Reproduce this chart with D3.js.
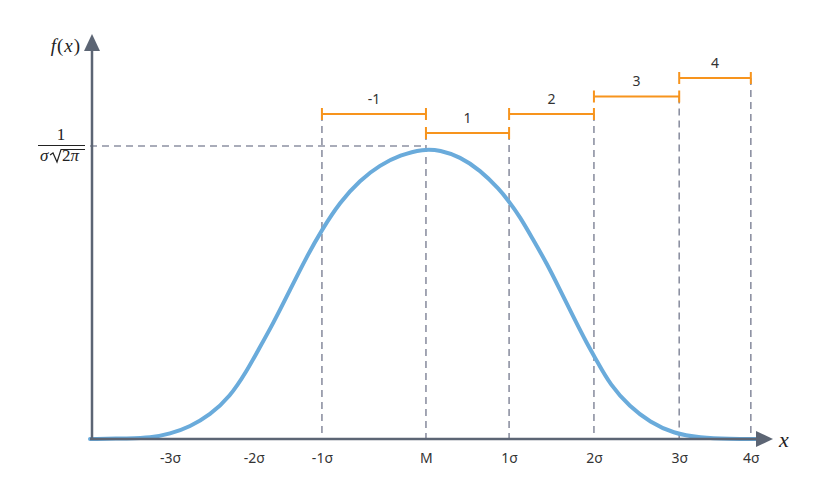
<!DOCTYPE html>
<html>
<head>
<meta charset="utf-8">
<script src="https://cdn.jsdelivr.net/npm/d3@7"></script>
<style>
  body { margin: 0; background: #fff; }
  svg { display: block; }
</style>
</head>
<body>
<div id="chart"></div>
<script>
// tick positions on the x axis, in sigma units
const tickValues = [-3, -2.02, -1.22, 0, 0.975, 1.97, 2.97, 3.81];
const tickLabels = ['-3σ', '-2σ', '-1σ', 'M', '1σ', '2σ', '3σ', '4σ'];

// bell curve (y relative to the 1/(σ√2π) level)
const curveX = [-3.94, -3.471, -3.236, -3.002, -2.767, -2.533, -2.298, -2.102, -1.985, -1.79,
  -1.594, -1.399, -1.223, -1.008, -0.773, -0.539, -0.304, -0.031, 0.165, 0.399, 0.634, 0.868,
  0.951, 1.103, 1.259, 1.416, 1.572, 1.728, 1.885, 2.006, 2.158, 2.393, 2.627, 2.901, 3.214,
  3.566, 3.883];
const curveY = [0, 0.002, 0.004, 0.017, 0.042, 0.082, 0.144, 0.232, 0.294, 0.395,
  0.509, 0.622, 0.713, 0.809, 0.884, 0.935, 0.969, 0.99, 0.986, 0.963, 0.918, 0.85,
  0.819, 0.759, 0.679, 0.6, 0.509, 0.417, 0.327, 0.266, 0.186, 0.109, 0.058, 0.019, 0.004,
  0, 0];

// orange interval brackets above the curve
const bracketLabels = ['-1', '1', '2', '3', '4'];
const bracketFrom = [-1.22, 0, 0.975, 1.97, 2.97];
const bracketTo = [0, 0.975, 1.97, 2.97, 3.81];
const bracketLevel = [1.109, 1.044, 1.109, 1.169, 1.232];

const width = 822, height = 493;
const axisColor = '#5c6574';
const dashColor = '#8d91a2';
const orange = '#f7941d';

const svg = d3.select('#chart').append('svg')
  .attr('width', width)
  .attr('height', height);

const x = d3.scaleLinear().domain([-3.94, 4.07]).range([90, 773]);
const y = d3.scaleLinear().domain([0, 1]).range([439, 146]);

// horizontal dashed guide at the peak level
svg.append('line')
  .attr('x1', x(-3.94)).attr('x2', x(0))
  .attr('y1', y(1)).attr('y2', y(1))
  .attr('stroke', dashColor)
  .attr('stroke-width', 1.6)
  .attr('stroke-dasharray', '7,5');

// vertical dashed guides, starting at the lowest bracket touching each end
const guides = [];
bracketFrom.forEach((f, i) => {
  [f, bracketTo[i]].forEach((v) => {
    const g = guides.find((d) => d.v === v);
    if (g) g.top = Math.min(g.top, bracketLevel[i]);
    else guides.push({ v: v, top: bracketLevel[i] });
  });
});
svg.selectAll('.guide')
  .data(guides)
  .join('line')
  .attr('class', 'guide')
  .attr('x1', (d) => x(d.v)).attr('x2', (d) => x(d.v))
  .attr('y1', (d) => y(d.top)).attr('y2', y(0))
  .attr('stroke', dashColor)
  .attr('stroke-width', 1.6)
  .attr('stroke-dasharray', '7,5');

// brackets
const brackets = svg.selectAll('.bracket')
  .data(bracketLabels.map((l, i) => ({ label: l, from: bracketFrom[i], to: bracketTo[i], level: bracketLevel[i] })))
  .join('g')
  .attr('class', 'bracket');
brackets.append('path')
  .attr('d', (d) => {
    const x0 = x(d.from), x1 = x(d.to), yy = y(d.level);
    return `M${x0},${yy - 6}V${yy + 6}M${x0},${yy}H${x1}M${x1},${yy - 6}V${yy + 6}`;
  })
  .attr('fill', 'none')
  .attr('stroke', orange)
  .attr('stroke-width', 2);
brackets.append('text')
  .attr('x', (d) => (x(d.from) + x(d.to)) / 2)
  .attr('y', (d) => y(d.level) - 15)
  .attr('dy', '0.35em')
  .attr('text-anchor', 'middle')
  .attr('font-family', '"Noto Sans", sans-serif')
  .attr('font-size', 14)
  .attr('fill', '#333')
  .text((d) => d.label);

// the curve
const line = d3.line()
  .x((d) => x(d[0]))
  .y((d) => y(d[1]))
  .curve(d3.curveBasis);
svg.append('path')
  .datum(curveX.map((v, i) => [v, curveY[i]]))
  .attr('d', line)
  .attr('fill', 'none')
  .attr('stroke', '#6aabdb')
  .attr('stroke-width', 4)
  .attr('stroke-linecap', 'round');

// axes with arrow heads
svg.append('line')
  .attr('x1', 90).attr('x2', 758)
  .attr('y1', y(0)).attr('y2', y(0))
  .attr('stroke', axisColor).attr('stroke-width', 2.5);
svg.append('path')
  .attr('d', `M773,${y(0)}L756,${y(0) - 8}L756,${y(0) + 8}Z`)
  .attr('fill', axisColor);
svg.append('line')
  .attr('x1', 92).attr('x2', 92)
  .attr('y1', y(0) + 1).attr('y2', 50)
  .attr('stroke', axisColor).attr('stroke-width', 2.5);
svg.append('path')
  .attr('d', 'M92,34L84,51L100,51Z')
  .attr('fill', axisColor);

// tick labels
const xAxis = d3.axisBottom(x)
  .tickValues(tickValues)
  .tickFormat((d, i) => tickLabels[i])
  .tickSize(0)
  .tickPadding(14);
const axisG = svg.append('g')
  .attr('transform', `translate(0,${y(0)})`)
  .call(xAxis);
axisG.select('.domain').remove();
axisG.selectAll('text')
  .attr('font-family', '"Noto Sans", sans-serif')
  .attr('font-size', 14)
  .attr('fill', '#333');

// math labels
const serif = '"Liberation Serif", "DejaVu Serif", serif';
svg.append('text')
  .attr('x', 779).attr('y', 447)
  .attr('font-family', serif).attr('font-style', 'italic')
  .attr('font-size', 22).attr('fill', '#222')
  .text('x');
svg.append('text')
  .attr('x', 81).attr('y', 52)
  .attr('text-anchor', 'end')
  .attr('font-family', serif)
  .attr('font-size', 19).attr('fill', '#222')
  .attr('letter-spacing', 1)
  .html('<tspan font-style="italic">f</tspan>(<tspan font-style="italic">x</tspan>)');

// 1 / (σ√2π)
const frac = svg.append('g').attr('fill', '#222');
frac.append('text')
  .attr('x', 61).attr('y', 140)
  .attr('text-anchor', 'middle')
  .attr('font-family', serif).attr('font-size', 17)
  .text('1');
frac.append('line')
  .attr('x1', 38).attr('x2', 85)
  .attr('y1', 145.5).attr('y2', 145.5)
  .attr('stroke', '#222').attr('stroke-width', 1.2);
frac.append('text')
  .attr('x', 40).attr('y', 161)
  .attr('font-family', serif).attr('font-style', 'italic').attr('font-size', 17)
  .text('σ');
frac.append('path')
  .attr('d', 'M50,155L53,153L57,162L61,149.5H85')
  .attr('fill', 'none')
  .attr('stroke', '#222').attr('stroke-width', 1.2);
frac.append('text')
  .attr('x', 62).attr('y', 161)
  .attr('font-family', serif).attr('font-size', 17)
  .html('2<tspan font-style="italic">π</tspan>');
</script>
</body>
</html>
